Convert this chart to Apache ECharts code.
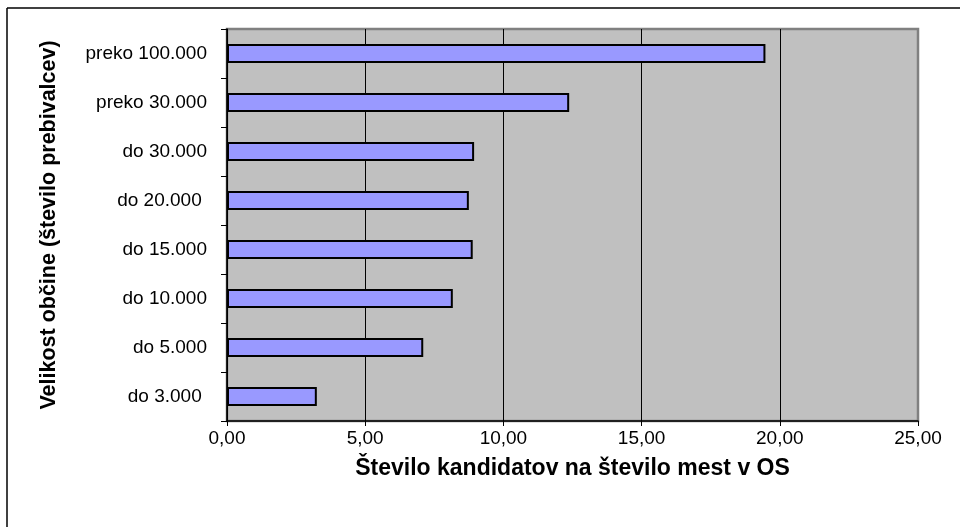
<!DOCTYPE html>
<html>
<head>
<meta charset="utf-8">
<script src="https://cdn.jsdelivr.net/npm/echarts@6/dist/echarts.min.js"></script>
<style>
  html, body { margin: 0; padding: 0; background: #fff; }
  #chart { width: 960px; height: 527px; }
</style>
</head>
<body>
<div id="chart"></div>
<script>
// Municipality size classes, listed from the top of the chart downwards
const categories = ['preko 100.000', 'preko 30.000', 'do 30.000', 'do 20.000 ', 'do 15.000', 'do 10.000', 'do 5.000', 'do 3.000 '];
// Candidates per council seat
const values = [19.48, 12.38, 8.94, 8.75, 8.89, 8.17, 7.10, 3.25];
// Value axis ticks
const xTicks = [0, 5, 10, 15, 20, 25];

const xTitle = 'Število kandidatov na število mest v OS';
const yTitle = 'Velikost občine (število prebivalcev)';

const FONT = '"Liberation Sans", Arial, sans-serif';
const fmt = v => v.toFixed(2).replace('.', ',');

const chart = echarts.init(document.getElementById('chart'), null, { renderer: 'canvas' });
chart.setOption({
  animation: false,
  backgroundColor: '#ffffff',
  textStyle: { fontFamily: FONT },
  graphic: [
    { type: 'line', shape: { x1: 7, y1: 8, x2: 960, y2: 8 }, style: { stroke: '#000', lineWidth: 1.5 } },
    { type: 'line', shape: { x1: 7, y1: 8, x2: 7, y2: 527 }, style: { stroke: '#000', lineWidth: 1.5 } }
  ],
  grid: {
    left: 227, top: 29, width: 691, height: 392,
    show: true, backgroundColor: '#C0C0C0', borderColor: '#808080', borderWidth: 2.5
  },
  xAxis: {
    type: 'value',
    min: xTicks[0], max: xTicks[xTicks.length - 1], interval: 5,
    name: xTitle, nameLocation: 'middle', nameGap: 36,
    nameTextStyle: { fontFamily: FONT, fontSize: 23, fontWeight: 'bold', color: '#000' },
    axisLine: { show: true, lineStyle: { color: '#000', width: 1.5 } },
    axisTick: { show: true, length: 5, lineStyle: { color: '#000', width: 1 } },
    axisLabel: { formatter: fmt, fontFamily: FONT, fontSize: 19, color: '#000', margin: 8 },
    splitLine: { show: true, lineStyle: { color: ['#000', '#000', '#000', '#000', '#000', '#808080'], width: 1 } }
  },
  yAxis: {
    type: 'category', data: categories, inverse: true,
    name: yTitle, nameLocation: 'middle', nameGap: 167, nameRotate: 90,
    nameTextStyle: { fontFamily: FONT, fontSize: 21.5, fontWeight: 'bold', color: '#000' },
    axisLine: { show: true, lineStyle: { color: '#000', width: 1.5 } },
    axisTick: { show: true, length: 6, lineStyle: { color: '#000', width: 1 } },
    axisLabel: { fontFamily: FONT, fontSize: 19, color: '#000', margin: 20 },
    splitLine: { show: false }
  },
  series: [{
    type: 'bar',
    data: values,
    barWidth: 19,
    itemStyle: { color: '#9999FF', borderColor: '#000', borderWidth: 2 }
  }]
});
</script>
</body>
</html>
